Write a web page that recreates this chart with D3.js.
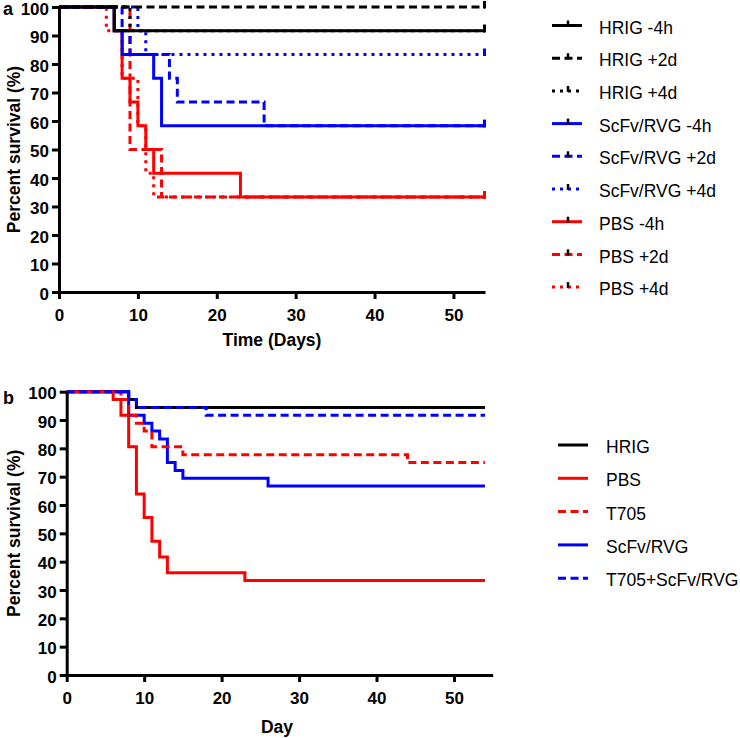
<!DOCTYPE html>
<head>
<meta charset="utf-8">
<script src="https://d3js.org/d3.v7.min.js"></script>
</head>
<style>
body { margin: 0; background: #fff; }
svg { font-family: "Liberation Sans", Arial, sans-serif; }
.axis path, .axis line { stroke: #000; stroke-width: 3px; }
.axis text { font-size: 17px; font-weight: bold; fill: #000; }
.title { font-size: 17.5px; font-weight: bold; }
.legend text { font-size: 17.5px; fill: #000; }
.line { fill: none; stroke-width: 3px; }
</style>
<body>
<script>
// panel a: survival steps [day, percent]
var namesA = ["HRIG -4h", "HRIG +2d", "HRIG +4d",
              "ScFv/RVG -4h", "ScFv/RVG +2d", "ScFv/RVG +4d",
              "PBS -4h", "PBS +2d", "PBS +4d"];
var hrigM4h = [[0, 100], [7, 91.67]];
var hrigP2d = [[0, 100]];
var hrigP4d = [[0, 100], [9, 91.67]];
var scfvM4h = [[0, 100], [7, 91.67], [8, 83.33], [12, 75], [13, 58.33]];
var scfvP2d = [[0, 100], [8, 91.67], [9, 83.33], [14, 75], [15, 66.67], [26, 58.33]];
var scfvP4d = [[0, 100], [10, 91.67], [11, 83.33]];
var pbsM4h = [[0, 100], [7, 91.67], [8, 75], [9, 66.67], [10, 58.33], [11, 50], [12, 41.67], [23, 33.33]];
var pbsP2d = [[0, 100], [9, 50], [13, 33.33]];
var pbsP4d = [[0, 100], [6, 91.67], [8, 75], [10, 58.33], [11, 41.67], [12, 33.33]];
var endA = 54;

// panel b
var namesB = ["HRIG", "PBS", "T705", "ScFv/RVG", "T705+ScFv/RVG"];
var hrigB = [[0, 100], [8, 97.22], [9, 94.44]];
var pbsB = [[0, 100], [6, 97.22], [7, 91.67], [8, 80.56], [9, 63.89], [10, 55.56], [11, 47.22], [12, 41.67], [13, 36.11], [23, 33.33]];
var t705B = [[0, 100], [7, 97.22], [8, 91.67], [9, 88.89], [10, 86.11], [11, 80.56], [15, 77.78], [44, 75]];
var scfvB = [[0, 100], [8, 91.67], [10, 88.89], [11, 86.11], [12, 83.33], [13, 75], [14, 72.22], [15, 69.44], [26, 66.67]];
var comboB = [[0, 100], [8, 97.22], [9, 94.44], [18, 91.67]];
var endB = 54;

var yTicks = [0, 10, 20, 30, 40, 50, 60, 70, 80, 90, 100];
var xTicks = [0, 10, 20, 30, 40, 50];

var RED = "#f00", BLUE = "#00f", BLACK = "#000";
var SOLID = null, DASH = "8,4.5", DOT = "3,5";

var seriesA = [
  {name: namesA[0], data: hrigM4h, color: BLACK, dash: SOLID},
  {name: namesA[1], data: hrigP2d, color: BLACK, dash: DASH},
  {name: namesA[2], data: hrigP4d, color: BLACK, dash: DOT},
  {name: namesA[3], data: scfvM4h, color: BLUE, dash: SOLID},
  {name: namesA[4], data: scfvP2d, color: BLUE, dash: DASH},
  {name: namesA[5], data: scfvP4d, color: BLUE, dash: DOT},
  {name: namesA[6], data: pbsM4h, color: RED, dash: SOLID},
  {name: namesA[7], data: pbsP2d, color: RED, dash: DASH},
  {name: namesA[8], data: pbsP4d, color: RED, dash: DOT}
];
var seriesB = [
  {name: namesB[0], data: hrigB, color: BLACK, dash: SOLID},
  {name: namesB[1], data: pbsB, color: RED, dash: SOLID},
  {name: namesB[2], data: t705B, color: RED, dash: DASH},
  {name: namesB[3], data: scfvB, color: BLUE, dash: SOLID},
  {name: namesB[4], data: comboB, color: BLUE, dash: DASH}
];

var svg = d3.select("body").append("svg")
    .attr("width", 740)
    .attr("height", 738);

function panel(opt) {
  var x = d3.scaleLinear().domain([0, opt.xMax]).range(opt.xr);
  var y = d3.scaleLinear().domain([0, 100]).range(opt.yr);
  var line = d3.line()
      .curve(d3.curveStepAfter)
      .x(function(d) { return x(d[0]); })
      .y(function(d) { return y(d[1]); });

  // draw back to front in the given order
  opt.order.forEach(function(i) {
    var s = opt.series[i];
    var pts = s.data.concat([[opt.end, s.data[s.data.length - 1][1]]]);
    svg.append("path")
        .attr("class", "line")
        .attr("d", line(pts))
        .attr("stroke", s.color)
        .attr("stroke-dasharray", s.dash);
    if (opt.censor) {
      var v = pts[pts.length - 1][1];
      svg.append("line")
          .attr("x1", x(opt.end) - 0.5).attr("x2", x(opt.end) - 0.5)
          .attr("y1", y(v) + 1.5).attr("y2", y(v) - 6)
          .attr("stroke", s.color).attr("stroke-width", 3);
    }
  });

  svg.append("g")
      .attr("class", "axis")
      .attr("transform", "translate(0," + opt.yr[0] + ")")
      .call(d3.axisBottom(x).tickValues(xTicks).tickSize(7).tickSizeOuter(0).tickPadding(10));
  svg.append("g")
      .attr("class", "axis")
      .attr("transform", "translate(" + opt.xr[0] + ",0)")
      .call(d3.axisLeft(y).tickValues(yTicks).tickSize(7).tickSizeOuter(0).tickPadding(3))
    .selectAll("text")
      .attr("dy", "0.42em");

  svg.append("text")
      .attr("class", "title")
      .attr("transform", "translate(" + opt.ytx + "," + ((opt.yr[0] + opt.yr[1]) / 2) + ") rotate(-90)")
      .attr("text-anchor", "middle")
      .attr("dy", "0.35em")
      .text("Percent survival (%)");
  svg.append("text")
      .attr("class", "title")
      .attr("x", opt.xtx).attr("y", opt.xty)
      .attr("text-anchor", "middle")
      .text(opt.xTitle);
  svg.append("text")
      .attr("class", "title")
      .attr("x", 3).attr("y", opt.letterY)
      .style("font-size", "18px")
      .text(opt.letter);

  var lg = svg.append("g").attr("class", "legend");
  opt.series.forEach(function(s, i) {
    var cy = opt.lgY + i * opt.lgStep;
    lg.append("line")
        .attr("x1", opt.lgX).attr("x2", opt.lgX + 30)
        .attr("y1", cy - 2).attr("y2", cy - 2)
        .attr("stroke", s.color).attr("stroke-width", 3)
        .attr("stroke-dasharray", s.dash);
    if (opt.censor) {
      lg.append("line")
          .attr("x1", opt.lgX + 16).attr("x2", opt.lgX + 16)
          .attr("y1", cy - 1).attr("y2", cy - 7)
          .attr("stroke", BLACK).attr("stroke-width", 2.5);
    }
    lg.append("text")
        .attr("x", opt.lgX + opt.lgText).attr("y", cy)
        .attr("dy", "0.35em")
        .text(s.name);
  });
}

panel({
  series: seriesA, order: [8, 7, 6, 5, 4, 3, 2, 1, 0], censor: true,
  xMax: 54, end: endA, xr: [59, 485], yr: [292, 7],
  ytx: 14, xtx: 272, xty: 346, xTitle: "Time (Days)",
  letter: "a", letterY: 15,
  lgX: 552, lgText: 47, lgY: 27.5, lgStep: 32.7
});

panel({
  series: seriesB, order: [0, 3, 1, 2, 4], censor: false,
  xMax: 55, end: endB, xr: [66.7, 492.7], yr: [675, 391.7],
  ytx: 14, xtx: 277, xty: 733, xTitle: "Day",
  letter: "b", letterY: 404,
  lgX: 558, lgText: 48, lgY: 447, lgStep: 33.3
});
</script>
</body>
